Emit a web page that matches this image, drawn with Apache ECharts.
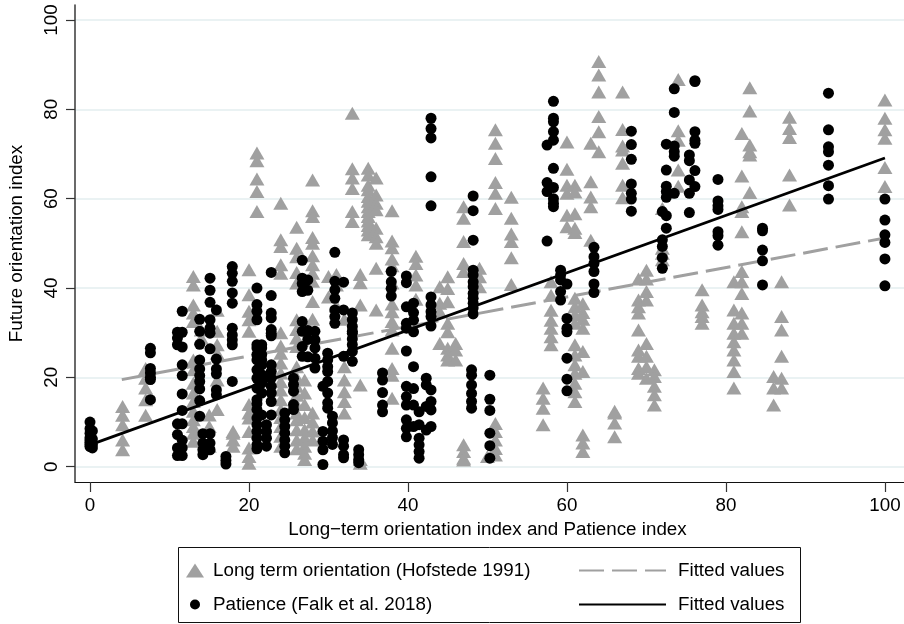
<!DOCTYPE html>
<html><head><meta charset="utf-8">
<style>html,body{margin:0;padding:0;background:#fff}#c{width:904px;height:624px}</style>
<script src="https://cdn.jsdelivr.net/npm/echarts@6/dist/echarts.min.js"></script>
</head><body><div id="c"></div>
<script>
const tickValues=[0,20,40,60,80,100];
const hofstedeName='Long term orientation (Hofstede 1991)';
const patienceName='Patience (Falk et al. 2018)';
const fitHofstedeName='Fitted values';
const fitPatienceName='Fitted values\u00a0';
const xTitle='Long\u2212term orientation index and Patience index';
const yTitle='Future orientation index';
const hofstedeX=[4.1,7,13,14,15,16,18,20,21,24,26,27,28,30,31,32,33,34,35,36,38,41,44,45,46,47,49,50,51,53,57,58,60,61,62,63,64,66,67,69,70,71,72,74,77,81,82,83,86,87,88,100];
const hofstedeY=[
[13.5,11.5,9.4,6,3.8],
[22,19.8,17.6,15,11.5],
[42.6,40.7,36.2,34.4,32.5,23.9,21.7,18.7,16.5,14.6,12.4,10.5,9,7.5,5.7],
[30.6,28.8],
[11.6,9,4.6],
[35,30.3,27.3,25.4,19.4,12.8],
[7.9,6,4.6,7.5],
[44.1,38.5,34.8,32.9,30.3,13.9,12,10.9,7.9,4.2,2.3,0.8],
[70.2,68.5,64.4,61.6,57.1],
[59,50.8,49.3,45.2,43.3,30,27,25.4,23.2,21,19,17.2,15,12.8,11,9,6.8,4.6],
[53.6,48.9,47,43.5,41.1,32.9,30.7,28.8,26.9,22.4,20,18,16,14,12,10.5,8.3,6,4],
[19.4,16.5,13.9,11,8.3,6.5,4.6,3,1.6],
[64.2,57.3,56,51.3,50,47.2,45.2,43.3,41.5,37,33,12,10,8,6],
[42.6,38],
[43,40.7,36],
[22.4,19.4,16.8,14.6,12,33],
[79.1,66.7,64.6,62.3,57.1,54.9],
[43,41.2,36.2,18.3,1.6,0.8],
[66.8,65.3,63,62,60.5,59.4,58.2,57.1,53,51.9,56,55,54],
[64.6,60.8,59,57.5,53.4,51.5,50,44.4,35.1],
[57.3,50.5,49,46.5,45,41.1,36.4,34.7,32.5,30.6,26.5,22,20.5,15.3],
[47.1,45.5,42.9,40.7,37.5],
[40.3,36.6,34.7,27.6],
[42.5,39.9,36.9,32.1,30.2,26.5,25,23.9],
[27.6,26.1,23.9],
[58.2,55.6,50.4,45.5,43.7,4.9,3.4,1.9,1.5],
[44.4,42.5,40.3],
[2.3],
[75.4,72.4,69,63.6,61.2,57.8,9.7,7.9,6,4.1,2.6],
[60.3,55.6,52.1,50.4,46.8,40.8],
[17.6,15.3,13.1,9.4],
[41.4,38.4,35,32.8,31,29.1,27.3],
[72.7,66.6,63,61.2,56.3,53.7],
[63,61.5,56.6,53.4,52.4,37.7,35.8,34,32.1,27.3,25,22.8,20.9,18.7,16.8,14.6],
[36.5,34.5,33,31,25.8,21.3,7.1,5.3,3.4],
[72.4,63.8,60.4,58.2,50.7],
[90.7,87.7,83.9,78.4,75,70.5],
[12.4,9.8,6.7,12],
[83.9,75.5,71.8,70.9,67.9,63,60.2],
[42,37.3,35.8,34.4,30.6,26.1,24.7,22,20.9],
[44,42,39.2,37.3,27.6,24.7,22.4,19.8],
[21.7,20.2,18,16.1,13.8],
[57.8,48.9,47.8,46.3],
[86.7,75.2,73.1,66.4,62.8],
[39.6,36.2,34.7,33.6,32.1],
[41.4,35.1,32.1,29.9,28,26.1,23.9,21.3,17.6],
[74.6,65.1,58.2,57.1,52.6,43.7,41.4,38.8,34.4,32.1,29.9],
[84.8,79.6,72,70.5,69.8,61.4],
[20.2,17.6,13.8],
[41.4,33.6,30.6,24.7,19.8,17.6],
[78.2,75.7,73.7,65.3,58.6],
[82.1,78,75.4,73.5,67,62.7]
];
const patienceX=[0,0.3,7.6,11,11.6,13.8,14.2,15.1,15.9,17.1,17.9,21,21.6,22.2,22.8,24.5,25.6,26.7,27.4,28.3,29.3,29.9,30.5,30.8,31.9,33,33.8,36.8,37.9,39.8,40.7,41.4,42.3,42.9,48,48.2,50.3,57.5,58.3,59.2,60,63.4,68.1,72,72.5,73.5,75.4,76.1,79,84.6,92.9,100];
const patienceY=[
[10,8.5,7.5,6.5,6,5.5,5,4.5],
[8,6.2,5,4.2],
[26.5,25.5,22,21,20,19.5,15],
[30.1,28.8,27.3,9.6,7.2,4.2,2.5],
[34.8,30.1,26.8,22.8,20.4,16.3,12.6,9.6,5.9,4.2,2.5],
[33,30.3,27.4,23.9,21.9,20.4,19.1,17.4,14.8,11.3],
[7.4,5.3,3.8,2.7],
[42.2,39.5,36.8,32.9,31,29.9,26.4,7.4,5.3,3.8],
[35.1,24.1,21.9,20.8,17.2,16.1],
[2.3,1.4,0.6],
[44.8,43.3,41.5,38.9,36.6,31,29.5,28.4,27.3,19.1],
[40,36.3,34.8,32.9,27.3,26.6,25.1,23.9,21.7,19.8,17.6,15,14.1,12.8,10.9,9.4,7.9,6.4,4.9,4],
[27.3,26.6,25.1,23.9,22.8,20.6,19.8,18.7,16.5,11.6],
[9.4,7.9,6.4,4.6],
[43.5,38.3,34.4,33.3,30.7,29.9,29.3,22.8,21.3,19.8,18,16.5,14.6,11.6],
[12,10.5,9,7.5,6,4.6,3.1],
[19.8,18.4,16.9,13.9,12.8],
[46.2,42.2,41,39.2,32.5,30.3,26.9,24.7],
[41.8,39.5,30.5,28.5,24.6],
[30.3,28.4,26.6,24.3,22.1],
[18,0.5,7.9,5.7,3.8],
[25.4,23.9,22.4,21.3,19.1,16.5,14.3,13.1],
[11.3,9.8,8,6.5,5],
[48,41.5,39.6,37.7,35.1,33.6,32.1],
[41.3,35.1,24.7,6,4.6,2.7,2],
[34.4,32.9,31.4,29.9,28.6,30.3,27.3,25.8,23.6],
[3.8,2.7,1.6,0.9],
[21,19.4,16.6,13.8,12.3],
[43.7,41.4,39.9,38.2],
[42.7,41.2,35.8,32.1,31,25.9,18,15.7,13.8,10.5,8.6,6.7],
[36.6,34.5,32.8,30.2,22.4,17.5,13.8,9],
[12.3,9.4,6.4,4.9,3.4,1.9],
[19.8,18.3,13.5,8.2],
[78,75.7,73.6,64.9,58.4,38,36.2,34.7,33.6,31.5,17.2,14.6,12.7,9],
[21.7,20.5,18.3,16.4,14.6,13.1],
[60.6,57.3,50.7,44,42.9,41.4,40.3,38.8,37.7,36.6,35.5,34.2],
[20.5,15.1,12.6,7.5,4.7,1.9],
[72,63.6,61.6,50.5],
[81.8,78,77.2,75,73.1,66.8,62.5,60,59,58.2],
[44,42.9,41.8,39.2,37.3],
[40.9,33.2,31,30.2,24.3,19.6,17],
[49.1,47,45.5,43.7,40.9,39],
[75.1,72.1,68.8,63.3,61.2,59.9,57.2],
[57.1,50.8,49.3,46.8,44.4],
[72.2,66.4,62.8,61.6,60.3,56.2,53.4],
[84.6,79.3,71.8,70.5,69.5,61.2],
[69.8,68.5,64.2,61.2,56.9],
[86.4,86.2,75,73.1,72.4,66.3,62.7],
[64.3,59.5,58.4,57.6,52.6,51.7,49.6],
[53.4,52.8,48.5,46.1,40.7],
[83.6,75.4,71.6,70.5,67.5,62.9,59.9],
[59.9,55.2,51.9,50.2,46.5,40.5]
];
const fitHofstede=[[4,19.5],[100,51.2]];
const fitPatience=[[0,4.9],[100,69.1]];
function pairs(xs,ys){const out=[];xs.forEach((x,i)=>ys[i].forEach(y=>out.push([x,y])));return out;}
const grey='#a0a0a0';
const font='"Liberation Sans",Arial,sans-serif';
const lt={fontFamily:font,fontSize:18.8,color:'#000'};
const chart=echarts.init(document.getElementById('c'),null,{renderer:'canvas'});
chart.setOption({
animation:false,
backgroundColor:'#fff',
grid:{left:75,right:0,top:5,bottom:142,containLabel:false,outerBoundsMode:'none'},
xAxis:{type:'value',min:-1.887,max:102.4,
 name:xTitle,nameLocation:'middle',nameGap:37,nameTextStyle:{...lt,padding:[0,4,0,0]},
 axisLine:{show:true,onZero:false,lineStyle:{color:'#111',width:1.2}},
 axisTick:{show:true,length:10,customValues:tickValues,lineStyle:{color:'#333',width:1.2}},
 axisLabel:{customValues:tickValues,fontFamily:font,fontSize:18.8,color:'#000',margin:14,hideOverlap:false,showMinLabel:true,showMaxLabel:true},
 splitLine:{show:false}},
yAxis:{type:'value',min:-3.42,max:103.35,
 name:yTitle,nameLocation:'middle',nameGap:49,nameRotate:90,nameTextStyle:lt,
 axisLine:{show:true,onZero:false,lineStyle:{color:'#444',width:1.6}},
 axisTick:{show:true,length:9,customValues:tickValues,lineStyle:{color:'#333',width:1.2}},
 axisLabel:{customValues:tickValues,rotate:90,fontFamily:font,fontSize:18.8,color:'#000',margin:14,hideOverlap:false},
 splitLine:{show:true,customValues:tickValues,lineStyle:{color:'#eaf2f3',width:2}}},
legend:[
 {orient:'vertical',left:186,top:561,padding:0,itemWidth:18,itemHeight:14,data:[hofstedeName],textStyle:{...lt,padding:[0,0,0,4]},selectedMode:false},
 {orient:'vertical',left:190,top:595,padding:0,itemWidth:18,itemHeight:10,data:[patienceName],textStyle:{...lt,padding:[0,0,0,4]},selectedMode:false},
 {orient:'vertical',left:578,top:561,padding:0,itemWidth:87,itemHeight:1,itemGap:15,data:[fitHofstedeName,fitPatienceName],textStyle:{...lt,padding:[0,0,0,7]},selectedMode:false}
],
graphic:[{type:'rect',shape:{x:178.5,y:547.5,width:622,height:75},style:{fill:'none',stroke:'#111',lineWidth:1},silent:true}],
series:[
 {name:hofstedeName,type:'scatter',symbol:'triangle',symbolSize:[15,13],data:pairs(hofstedeX,hofstedeY),itemStyle:{color:grey,opacity:1},z:2},
 {name:fitHofstedeName,type:'line',data:fitHofstede,symbol:'none',lineStyle:{color:grey,width:3,type:[25,8]},itemStyle:{color:grey},z:3},
 {name:patienceName,type:'scatter',symbol:'circle',symbolSize:11,data:pairs(patienceX,patienceY),itemStyle:{color:'#000',opacity:1},z:4},
 {name:fitPatienceName,type:'line',data:fitPatience,symbol:'none',lineStyle:{color:'#000',width:2.8},itemStyle:{color:'#000'},z:5}
]});
</script></body></html>
